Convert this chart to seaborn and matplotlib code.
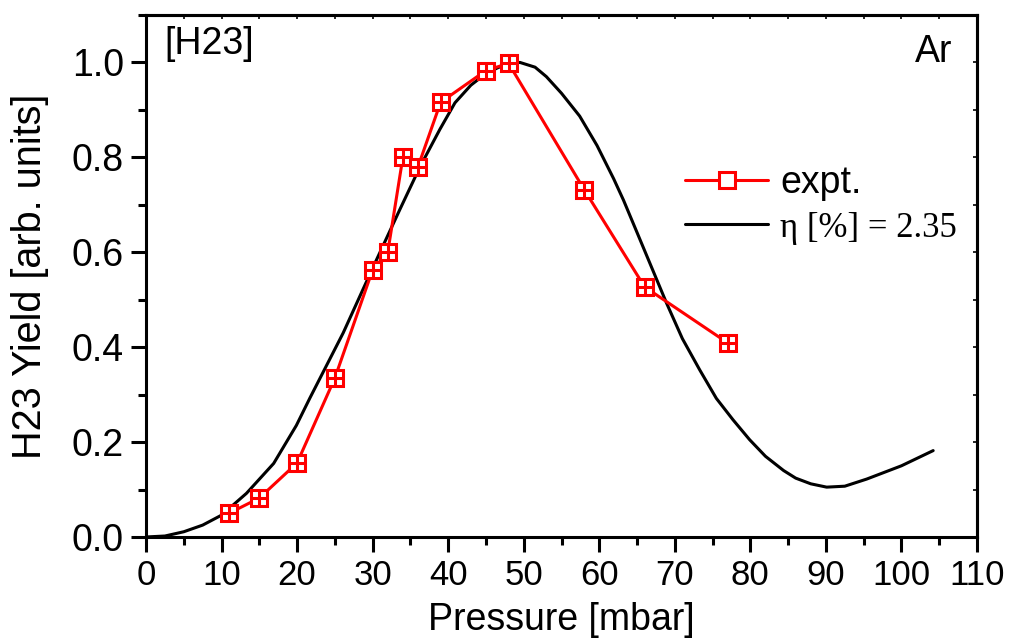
import numpy as np
import pandas as pd
import matplotlib
matplotlib.use("Agg")
import matplotlib.pyplot as plt
import seaborn as sns
from matplotlib.ticker import MultipleLocator

# experimental data
expt_pressure = [11, 15, 20, 25, 30, 32, 34, 36, 39, 45, 48, 58, 66, 77]
expt_yield = [0.050, 0.082, 0.156, 0.335, 0.563, 0.600, 0.800, 0.780, 0.916,
              0.983, 0.998, 0.732, 0.527, 0.409]

# model curve
model_pressure = [0, 2.5, 5, 7.5, 10, 13.3, 16.9, 19.9, 21.7, 26.1, 30.1, 33.6,
                  36.3, 38.9, 40.9, 43, 45.1, 47.7, 49.5, 51.5, 53, 55, 57.4,
                  59.7, 61.9, 63.2, 65.2, 68.9, 71, 73.3, 75.5, 77.7, 79.9,
                  82, 84.4, 86, 88, 90.1, 92.5, 95.4, 100, 104.2]
model_yield = [0.0, 0.002, 0.011, 0.025, 0.046, 0.092, 0.155, 0.235, 0.293,
               0.430, 0.570, 0.690, 0.781, 0.859, 0.915, 0.952, 0.978, 0.997,
               1.000, 0.990, 0.970, 0.935, 0.887, 0.825, 0.755, 0.710, 0.634,
               0.493, 0.418, 0.352, 0.292, 0.247, 0.205, 0.170, 0.140, 0.124,
               0.112, 0.105, 0.107, 0.122, 0.150, 0.182]

expt_label = "expt."
model_label = r"η [%] = 2.35"

sns.set_style("ticks")
plt.rcParams['font.family'] = ['Liberation Sans', 'DejaVu Sans']
plt.rcParams['axes.linewidth'] = 2.2
for k in ['text.color', 'axes.labelcolor', 'xtick.color', 'ytick.color',
          'axes.edgecolor']:
    plt.rcParams[k] = 'black'

fig = plt.figure(figsize=(10.14, 6.43), dpi=100)
ax = fig.add_axes([0.144, 0.1649, 0.8195, 0.8118])

df_e = pd.DataFrame({"p": expt_pressure, "y": expt_yield})
df_m = pd.DataFrame({"p": model_pressure, "y": model_yield})

sns.lineplot(data=df_m, x="p", y="y", ax=ax, color="black", lw=2.2,
             label=model_label, sort=False, estimator=None, zorder=2)
sns.lineplot(data=df_e, x="p", y="y", ax=ax, color="#ff0000", lw=2.2,
             marker="s", markersize=12, markerfacecolor="white",
             markeredgecolor="#ff0000", markeredgewidth=2.2,
             label=expt_label, sort=False, estimator=None, zorder=3)
ax.plot(df_e["p"], df_e["y"], ls="none", marker="+", markersize=12,
        markeredgewidth=2.2, color="#ff0000", zorder=4)

ax.set_xlim(0, 110)
ax.set_ylim(0, 1.1)
ax.xaxis.set_major_locator(MultipleLocator(10))
ax.xaxis.set_minor_locator(MultipleLocator(5))
ax.yaxis.set_major_locator(MultipleLocator(0.2))
ax.yaxis.set_minor_locator(MultipleLocator(0.1))
ax.yaxis.set_major_formatter(matplotlib.ticker.FormatStrFormatter('%.1f'))

ax.tick_params(which='major', direction='out', length=11, width=2.2,
               top=False, right=False)
ax.tick_params(which='minor', direction='out', length=6, width=2.2,
               top=False, right=False)
ax.tick_params(axis='x', labelsize=25, pad=5)
ax.tick_params(axis='y', labelsize=27, pad=5)

# small inward ticks on top and right
axt = ax.secondary_xaxis('top')
axt.set_xticks(np.arange(0, 111, 5))
axt.tick_params(direction='in', length=3, width=1.2, labeltop=False)
axt.set_xticklabels([])
axr = ax.secondary_yaxis('right')
axr.set_yticks(np.arange(0, 1.11, 0.1))
axr.tick_params(direction='in', length=3, width=1.2)
axr.set_yticklabels([])

ax.set_xlabel("Pressure [mbar]", fontsize=27, labelpad=7)
ax.set_ylabel("H23 Yield [arb. units]", fontsize=28.5, labelpad=16)

ax.text(0.022, 0.945, "[H23]", transform=ax.transAxes, fontsize=27,
        va='center', ha='left')
ax.text(0.97, 0.93, "Ar", transform=ax.transAxes, fontsize=27,
        va='center', ha='right')

handles, labels = ax.get_legend_handles_labels()
order = [labels.index(expt_label), labels.index(model_label)]
leg = ax.legend([handles[i] for i in order], [labels[i] for i in order],
                loc='center left', bbox_to_anchor=(0.61, 0.636),
                frameon=False, fontsize=26, handlelength=2.28,
                handletextpad=0.35, labelspacing=0.3)
leg.get_texts()[0].set_fontsize(27)
leg.get_texts()[1].set_family(['Liberation Serif', 'DejaVu Serif'])
leg.get_texts()[1].set_fontsize(25)
leg.legend_handles[0].set_markersize(12)

fig.savefig("out.png", dpi=100)
